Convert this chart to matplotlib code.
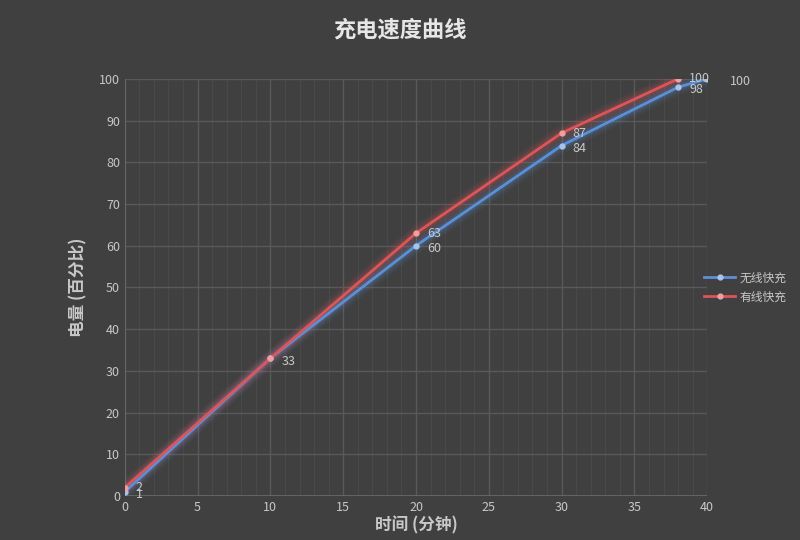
import matplotlib.pyplot as plt
from matplotlib.ticker import MultipleLocator

plt.rcParams['font.family'] = ['Noto Sans CJK SC', 'DejaVu Sans']

# 数据
wireless_x = [0, 10, 20, 30, 38, 40]
wireless_y = [1, 33, 60, 84, 98, 100]
wired_x = [0, 10, 20, 30, 38]
wired_y = [2, 33, 63, 87, 100]

bg = '#404040'
txt = '#c8c8c8'
blue = '#5b8fd6'
red = '#dc5558'

fig = plt.figure(figsize=(8, 5.4), dpi=100, facecolor=bg)
ax = fig.add_axes([0.156, 0.0815, 0.728, 0.7725], facecolor=bg)

# 发光效果
for x, y, c in [(wireless_x, wireless_y, blue), (wired_x, wired_y, red)]:
    for lw, a in [(11, 0.06), (8, 0.09), (5, 0.15)]:
        ax.plot(x, y, color=c, lw=lw, alpha=a, solid_capstyle='round', zorder=2)

ax.plot(wireless_x, wireless_y, color=blue, lw=2, marker='o', ms=3.5,
        mfc='#a9c4ec', mec='#a9c4ec', label='无线快充', zorder=4)
ax.plot(wired_x, wired_y, color=red, lw=2, marker='o', ms=3.5,
        mfc='#f0a0a0', mec='#f0a0a0', label='有线快充', zorder=4)

# 数据标签
for i, (x, y) in enumerate(zip(wireless_x, wireless_y)):
    dx = 16 if i == len(wireless_x) - 1 else 8
    ax.annotate(str(y), (x, y), xytext=(dx, -2), textcoords='offset points',
                color=txt, fontsize=9, va='center', zorder=5)
for x, y in zip(wired_x, wired_y):
    if y == 33:
        continue
    ax.annotate(str(y), (x, y), xytext=(8, 0), textcoords='offset points',
                color=txt, fontsize=9, va='center', zorder=5)

ax.set_xlim(0, 40)
ax.set_ylim(0, 100)
ax.xaxis.set_major_locator(MultipleLocator(5))
ax.xaxis.set_minor_locator(MultipleLocator(1))
ax.yaxis.set_major_locator(MultipleLocator(10))
ax.grid(which='major', color='#595959', lw=1)
ax.grid(which='minor', axis='x', color='#494949', lw=0.8)
ax.set_axisbelow(True)
ax.tick_params(which='both', length=0, colors=txt, labelsize=9)
for s in ax.spines.values():
    s.set_visible(False)
ax.axvline(0, color='#6a6a6a', lw=1.2, zorder=1)
ax.axhline(0, color='#6a6a6a', lw=1.2, zorder=1)

ax.set_xlabel('时间 (分钟)', color=txt, fontsize=12, fontweight='bold', labelpad=2)
ax.set_ylabel('电量 (百分比)', color=txt, fontsize=12, fontweight='bold', labelpad=8)
fig.suptitle('充电速度曲线', color='#e6e6e6', fontsize=16, fontweight='bold', y=0.965)

ax.legend(loc='center left', bbox_to_anchor=(0.995, 0.5), frameon=False,
          labelcolor=txt, fontsize=8.5, handlelength=2.6, handletextpad=0.4,
          borderaxespad=0, borderpad=0)

plt.savefig('out.png', facecolor=bg)
